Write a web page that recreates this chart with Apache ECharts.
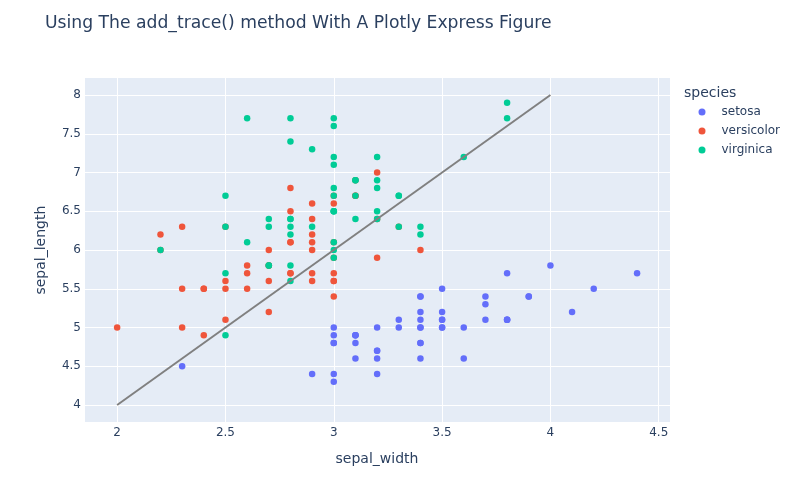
<!DOCTYPE html>
<html>
<head>
<meta charset="utf-8">
<script src="https://cdn.jsdelivr.net/npm/echarts@6/dist/echarts.min.js"></script>
<style>
  html, body { margin: 0; padding: 0; background: #fff; }
  #chart { width: 805px; height: 484px; }
</style>
</head>
<body>
<div id="chart"></div>
<script>
// Iris data: [sepal_width, sepal_length]
var setosa = [
  [3.5, 5.1], [3.0, 4.9], [3.2, 4.7], [3.1, 4.6], [3.6, 5.0], [3.9, 5.4], [3.4, 4.6], [3.4, 5.0],
  [2.9, 4.4], [3.1, 4.9], [3.7, 5.4], [3.4, 4.8], [3.0, 4.8], [3.0, 4.3], [4.0, 5.8], [4.4, 5.7],
  [3.9, 5.4], [3.5, 5.1], [3.8, 5.7], [3.8, 5.1], [3.4, 5.4], [3.7, 5.1], [3.6, 4.6], [3.3, 5.1],
  [3.4, 4.8], [3.0, 5.0], [3.4, 5.0], [3.5, 5.2], [3.4, 5.2], [3.2, 4.7], [3.1, 4.8], [3.4, 5.4],
  [4.1, 5.2], [4.2, 5.5], [3.1, 4.9], [3.2, 5.0], [3.5, 5.5], [3.1, 4.9], [3.0, 4.4], [3.4, 5.1],
  [3.5, 5.0], [2.3, 4.5], [3.2, 4.4], [3.5, 5.0], [3.8, 5.1], [3.0, 4.8], [3.8, 5.1], [3.2, 4.6],
  [3.7, 5.3], [3.3, 5.0]
];
var versicolor = [
  [3.2, 7.0], [3.2, 6.4], [3.1, 6.9], [2.3, 5.5], [2.8, 6.5], [2.8, 5.7], [3.3, 6.3], [2.4, 4.9],
  [2.9, 6.6], [2.7, 5.2], [2.0, 5.0], [3.0, 5.9], [2.2, 6.0], [2.9, 6.1], [2.9, 5.6], [3.1, 6.7],
  [3.0, 5.6], [2.7, 5.8], [2.2, 6.2], [2.5, 5.6], [3.2, 5.9], [2.8, 6.1], [2.5, 6.3], [2.8, 6.1],
  [2.9, 6.4], [3.0, 6.6], [2.8, 6.8], [3.0, 6.7], [2.9, 6.0], [2.6, 5.7], [2.4, 5.5], [2.4, 5.5],
  [2.7, 5.8], [2.7, 6.0], [3.0, 5.4], [3.4, 6.0], [3.1, 6.7], [2.3, 6.3], [3.0, 5.6], [2.5, 5.5],
  [2.6, 5.5], [3.0, 6.1], [2.6, 5.8], [2.3, 5.0], [2.7, 5.6], [3.0, 5.7], [2.9, 5.7], [2.9, 6.2],
  [2.5, 5.1], [2.8, 5.7]
];
var virginica = [
  [3.3, 6.3], [2.7, 5.8], [3.0, 7.1], [2.9, 6.3], [3.0, 6.5], [3.0, 7.6], [2.5, 4.9], [2.9, 7.3],
  [2.5, 6.7], [3.6, 7.2], [3.2, 6.5], [2.7, 6.4], [3.0, 6.8], [2.5, 5.7], [2.8, 5.8], [3.2, 6.4],
  [3.0, 6.5], [3.8, 7.7], [2.6, 7.7], [2.2, 6.0], [3.2, 6.9], [2.8, 5.6], [2.8, 7.7], [2.7, 6.3],
  [3.3, 6.7], [3.2, 7.2], [2.8, 6.2], [3.0, 6.1], [2.8, 6.4], [3.0, 7.2], [2.8, 7.4], [3.8, 7.9],
  [2.8, 6.4], [2.8, 6.3], [2.6, 6.1], [3.0, 7.7], [3.4, 6.3], [3.1, 6.4], [3.0, 6.0], [3.1, 6.9],
  [3.1, 6.7], [3.1, 6.9], [2.7, 5.8], [3.2, 6.8], [3.3, 6.7], [3.0, 6.7], [2.5, 6.3], [3.0, 6.5],
  [3.4, 6.2], [3.0, 5.9]
];
var lineTrace = [[2, 4], [4, 8]];
var speciesNames = ["setosa", "versicolor", "virginica"];

var chart = echarts.init(document.getElementById("chart"));

var fontFamily = "'DejaVu Sans', Verdana, sans-serif";
var textColor = "#2a3f5f";

function scatter(name, data, color) {
  return {
    name: name,
    type: "scatter",
    data: data,
    symbolSize: 6.5,
    itemStyle: { color: color, opacity: 1 },
    emphasis: { disabled: true }
  };
}

chart.setOption({
  animation: false,
  textStyle: { fontFamily: fontFamily, color: textColor },
  title: [
    {
      text: "Using The add_trace() method With A Plotly Express Figure",
      left: 40,
      top: 10,
      textStyle: { fontFamily: fontFamily, fontSize: 17.2, fontWeight: "normal", color: textColor }
    },
    {
      text: "species",
      left: 679,
      top: 81,
      textStyle: { fontFamily: fontFamily, fontSize: 14, fontWeight: "normal", color: textColor }
    }
  ],
  legend: {
    data: speciesNames,
    orient: "vertical",
    left: 693.5,
    top: 100,
    itemGap: 5,
    itemWidth: 7,
    itemHeight: 7,
    icon: "circle",
    textStyle: { fontFamily: fontFamily, fontSize: 12, lineHeight: 14, color: textColor, padding: [0, 0, 0, 11] }
  },
  grid: { left: 84, right: 135, top: 77.5, bottom: 61.3, containLabel: false },
  xAxis: {
    type: "value",
    name: "sepal_width",
    nameLocation: "middle",
    nameGap: 30,
    nameTextStyle: { fontSize: 14, color: textColor },
    min: 1.847,
    max: 4.552,
    splitNumber: 5,
    axisLine: { show: false },
    axisTick: { show: false },
    axisLabel: { fontSize: 12, color: textColor, margin: 4, showMinLabel: false, showMaxLabel: false },
    splitLine: { lineStyle: { color: "#ffffff", width: 1 } }
  },
  yAxis: {
    type: "value",
    name: "sepal_length",
    nameLocation: "middle",
    nameGap: 36,
    nameTextStyle: { fontSize: 14, color: textColor },
    min: 3.772,
    max: 8.226,
    splitNumber: 8,
    axisLine: { show: false },
    axisTick: { show: false },
    axisLabel: { fontSize: 12, color: textColor, margin: 3, showMinLabel: false, showMaxLabel: false },
    splitLine: { lineStyle: { color: "#ffffff", width: 1 } }
  },
  series: [
    scatter("setosa", setosa, "#636efa"),
    scatter("versicolor", versicolor, "#EF553B"),
    scatter("virginica", virginica, "#00cc96"),
    {
      name: "line",
      type: "line",
      data: lineTrace,
      showSymbol: false,
      lineStyle: { color: "#808080", width: 2 },
      emphasis: { disabled: true }
    }
  ],
  graphic: [
    {
      type: "rect",
      z: -10,
      shape: { x: 84, y: 77.5, width: 586, height: 345.2 },
      style: { fill: "#e5ecf6" }
    }
  ]
});
</script>
</body>
</html>
